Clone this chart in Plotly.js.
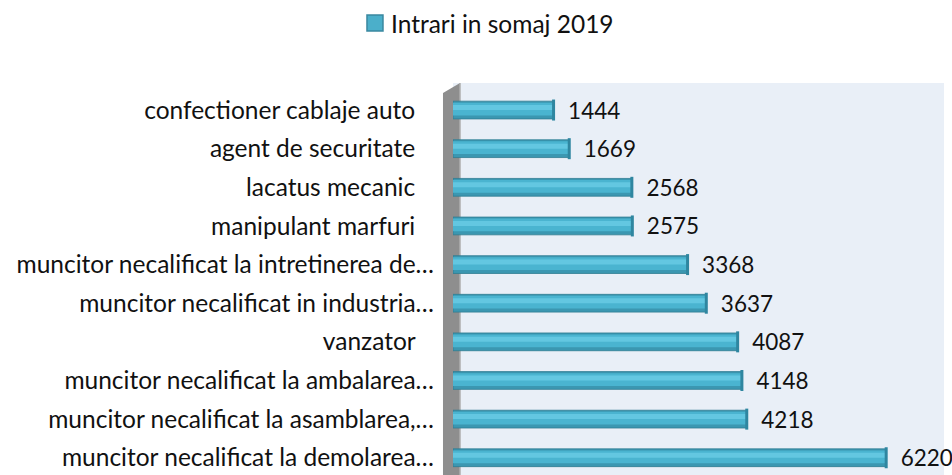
<!DOCTYPE html>
<html>
<head>
<meta charset="utf-8">
<script src="https://cdn.plot.ly/plotly-3.0.1.min.js"></script>
<style>
html,body{margin:0;padding:0;overflow:hidden;background:#fff;}
#chart{width:952px;height:500px;}
</style>
</head>
<body>
<div id="chart"></div>
<script>
const categories = [
  "confectioner cablaje auto\u00a0\u00a0\u00a0",
  "agent de securitate\u00a0\u00a0\u00a0",
  "lacatus mecanic\u00a0\u00a0\u00a0",
  "manipulant marfuri\u00a0\u00a0\u00a0",
  "muncitor necalificat la intretinerea de…",
  "muncitor necalificat in industria…",
  "vanzator\u00a0\u00a0\u00a0",
  "muncitor necalificat la ambalarea…",
  "muncitor necalificat la asamblarea,…",
  "muncitor necalificat la demolarea…"
];
const values = [1444, 1669, 2568, 2575, 3368, 3637, 4087, 4148, 4218, 6220];
const seriesName = "Intrari in somaj 2019";

const FONT = "Lato, 'Open Sans', sans-serif";

const main = {
  type: "bar", orientation: "h", name: seriesName,
  y: categories, x: values,
  width: 0.46, offset: -0.23,
  marker: {color: "#3b97b1", line: {color: "#2e7c92", width: 0.8}},
  text: values.map(v => "\u00a0\u00a0" + v),
  textposition: "outside", cliponaxis: false, constraintext: "none",
  textfont: {family: FONT, size: 22.5, color: "#111"},
  hoverinfo: "x+y"
};
const body = {
  type: "bar", orientation: "h", name: seriesName, showlegend: false,
  y: categories, x: values,
  width: 0.33, offset: -0.19,
  marker: {color: "#4ab4d0", line: {width: 0}},
  hoverinfo: "skip"
};
const highlight = {
  type: "bar", orientation: "h", name: seriesName, showlegend: false,
  y: categories, x: values,
  width: 0.13, offset: -0.13,
  marker: {color: "#63c7e1", line: {width: 0}},
  hoverinfo: "skip"
};
const caps = {
  type: "scatter", mode: "markers", name: seriesName, showlegend: false,
  y: categories, x: values, cliponaxis: false,
  marker: {symbol: "line-ns-open", size: 15, color: "#2f86a0", line: {color: "#2f86a0", width: 3}},
  hoverinfo: "skip"
};

const layout = {
  width: 952, height: 500,
  margin: {l: 453, r: 8, t: 83, b: 21, pad: 0},
  paper_bgcolor: "#ffffff",
  plot_bgcolor: "#e9eff7",
  barmode: "overlay",
  font: {family: FONT, size: 24.5, color: "#111"},
  showlegend: false,
  xaxis: {
    range: [0, 7050], showgrid: false, zeroline: false,
    showticklabels: false, ticks: "", showline: false
  },
  yaxis: {
    type: "category", range: [9.55, -0.7],
    showgrid: false, zeroline: false, showline: false,
    ticks: "", ticklabelstandoff: 18,
    tickfont: {family: FONT, size: 24.5, color: "#111"}
  },
  annotations: [
    {xref: "paper", yref: "paper", x: -0.1303, y: 1.1515,
     xanchor: "left", yanchor: "middle", showarrow: false,
     text: seriesName, font: {family: FONT, size: 24.5, color: "#111"}}
  ],
  shapes: [
    {type: "rect", xref: "paper", yref: "paper",
     x0: -0.1752, x1: -0.1426, y0: 1.1313, y1: 1.1717,
     fillcolor: "#4bafca", line: {color: "#3a88a0", width: 1.5}},
    {type: "path", xref: "paper", yref: "paper", layer: "below",
     path: "M -0.0204 0 L -0.0204 0.9747 L 0.0143 1.0 L 0.0143 0 Z",
     fillcolor: "#8e8e8e", line: {width: 0}},
    {type: "line", xref: "paper", yref: "paper", layer: "below",
     x0: 0.0143, x1: 0.0143, y0: 0, y1: 1.0,
     line: {color: "#b0b0b0", width: 1.5}}
  ]
};

Plotly.newPlot("chart", [main, body, highlight, caps], layout, {displayModeBar: false, staticPlot: true});
</script>
</body>
</html>
